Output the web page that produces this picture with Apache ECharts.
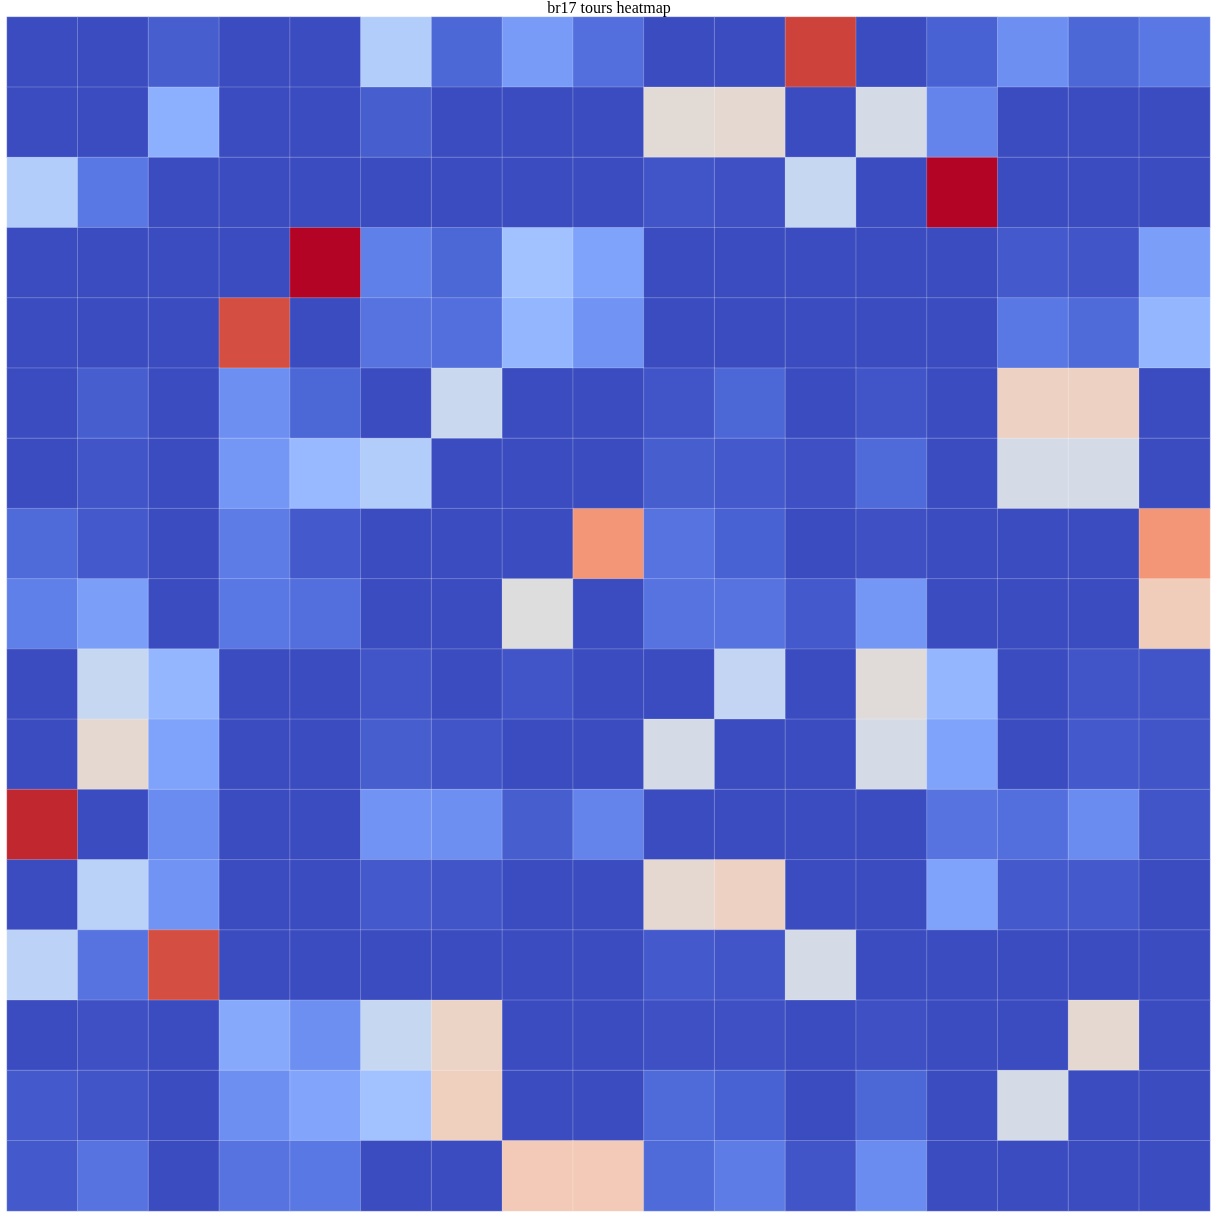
<!DOCTYPE html>
<html>
<head>
<meta charset="utf-8">
<script src="https://cdn.jsdelivr.net/npm/echarts@6/dist/echarts.min.js"></script>
<style>
  html, body { margin: 0; padding: 0; background: #fff; }
  #chart { width: 1218px; height: 1218px; }
</style>
</head>
<body>
<div id="chart"></div>
<script>
// city indices for br17
var cities = ['0','1','2','3','4','5','6','7','8','9','10','11','12','13','14','15','16'];

// tour frequency, one array per row (0..1)
var row00 = [0, 0, 0.04, 0, 0, 0.36, 0.06, 0.19, 0.08, 0, 0, 0.93, 0, 0.05, 0.16, 0.06, 0.10];
var row01 = [0, 0, 0.25, 0, 0, 0.04, 0, 0, 0, 0.52, 0.53, 0, 0.47, 0.13, 0, 0, 0];
var row02 = [0.36, 0.10, 0, 0, 0, 0, 0, 0, 0, 0.02, 0.01, 0.42, 0, 1.0, 0, 0, 0];
var row03 = [0, 0, 0, 0, 1.0, 0.12, 0.06, 0.31, 0.21, 0, 0, 0, 0, 0, 0.03, 0.02, 0.20];
var row04 = [0, 0, 0, 0.91, 0, 0.09, 0.08, 0.27, 0.17, 0, 0, 0, 0, 0, 0.10, 0.07, 0.27];
var row05 = [0, 0.04, 0, 0.16, 0.06, 0, 0.43, 0, 0, 0.02, 0.06, 0, 0.02, 0, 0.57, 0.57, 0];
var row06 = [0, 0.02, 0, 0.18, 0.28, 0.36, 0, 0, 0, 0.04, 0.03, 0.01, 0.07, 0, 0.47, 0.47, 0];
var row07 = [0.07, 0.03, 0, 0.11, 0.03, 0, 0, 0, 0.76, 0.09, 0.05, 0, 0.01, 0, 0, 0, 0.76];
var row08 = [0.12, 0.20, 0, 0.10, 0.08, 0, 0, 0.50, 0, 0.09, 0.09, 0.03, 0.18, 0, 0, 0, 0.59];
var row09 = [0, 0.42, 0.27, 0, 0, 0.02, 0, 0.02, 0, 0, 0.41, 0, 0.51, 0.27, 0, 0.02, 0.02];
var row10 = [0, 0.53, 0.21, 0, 0, 0.04, 0.02, 0, 0, 0.47, 0, 0, 0.47, 0.21, 0, 0.03, 0.02];
var row11 = [0.97, 0, 0.15, 0, 0, 0.17, 0.16, 0.04, 0.13, 0, 0, 0, 0, 0.09, 0.08, 0.15, 0.02];
var row12 = [0, 0.38, 0.17, 0, 0, 0.03, 0.02, 0, 0, 0.53, 0.57, 0, 0, 0.21, 0.03, 0.03, 0];
var row13 = [0.39, 0.09, 0.91, 0, 0, 0, 0, 0, 0, 0.03, 0.02, 0.47, 0, 0, 0, 0, 0];
var row14 = [0, 0.01, 0, 0.23, 0.16, 0.42, 0.56, 0, 0, 0.01, 0.01, 0, 0.01, 0, 0, 0.53, 0];
var row15 = [0.03, 0.02, 0, 0.16, 0.22, 0.31, 0.58, 0, 0, 0.07, 0.05, 0, 0.06, 0, 0.47, 0, 0];
var row16 = [0.03, 0.09, 0, 0.09, 0.10, 0, 0, 0.60, 0.60, 0.07, 0.11, 0.02, 0.15, 0, 0, 0, 0];

var rows = [row00, row01, row02, row03, row04, row05, row06, row07, row08,
            row09, row10, row11, row12, row13, row14, row15, row16];

// coolwarm (Moreland) 33 samples
var coolwarm = [
  '#3b4cc0','#445acc','#4d68d7','#5775e1','#6282ea','#6c8ef1','#779af7','#82a5fb',
  '#8db0fe','#98b9ff','#a3c2ff','#aec9fd','#b8d0f9','#c2d5f4','#ccd9ee','#d5dbe6',
  '#dddddd','#e5d8d1','#ecd3c5','#f1ccb9','#f5c4ad','#f7bba0','#f7b194','#f7a687',
  '#f49a7b','#f18d6f','#ec7f63','#e57058','#de604d','#d55042','#cb3e38','#c0282f',
  '#b40426'
];

var data = [];
rows.forEach(function (r, i) {
  r.forEach(function (v, j) {
    data.push([j, i, v]);
  });
});

var chart = echarts.init(document.getElementById('chart'));
chart.setOption({
  animation: false,
  title: {
    text: 'br17 tours heatmap',
    left: 'center',
    top: -4,
    textStyle: {
      fontFamily: 'Liberation Serif',
      fontWeight: 'normal',
      fontSize: 16,
      color: '#000'
    }
  },
  grid: { left: 7, right: 8, top: 17, bottom: 7 },
  xAxis: {
    type: 'category',
    data: cities,
    show: false
  },
  yAxis: {
    type: 'category',
    data: cities,
    inverse: true,
    show: false
  },
  visualMap: {
    show: false,
    min: 0,
    max: 1,
    dimension: 2,
    inRange: { color: coolwarm }
  },
  series: [{
    type: 'heatmap',
    data: data,
    itemStyle: {
      borderColor: 'rgba(255,255,255,0.22)',
      borderWidth: 1
    },
    emphasis: { disabled: true }
  }]
});
</script>
</body>
</html>
